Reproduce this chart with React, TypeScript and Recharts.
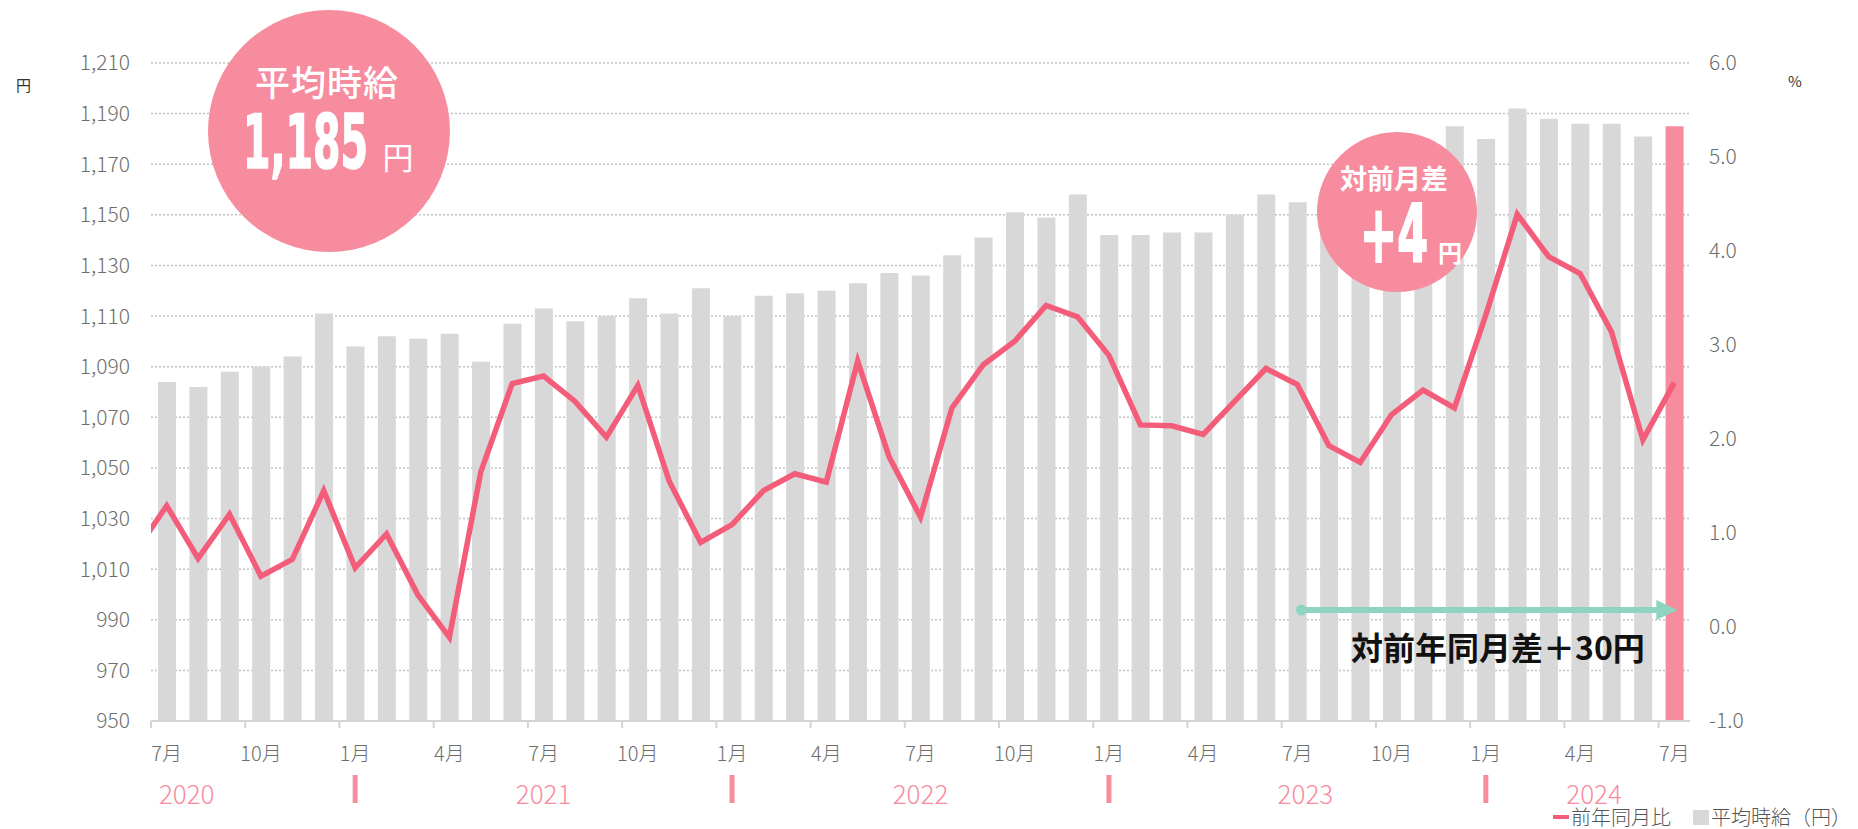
import React from "react";
import {
  ComposedChart,
  Bar,
  Line,
  XAxis,
  YAxis,
  CartesianGrid,
  Cell,
  ReferenceLine,
} from "recharts";

// months shown on the category axis (Jul 2020 – Jul 2024)
const months = [
  "2020-07", "2020-08", "2020-09", "2020-10", "2020-11", "2020-12",
  "2021-01", "2021-02", "2021-03", "2021-04", "2021-05", "2021-06",
  "2021-07", "2021-08", "2021-09", "2021-10", "2021-11", "2021-12",
  "2022-01", "2022-02", "2022-03", "2022-04", "2022-05", "2022-06",
  "2022-07", "2022-08", "2022-09", "2022-10", "2022-11", "2022-12",
  "2023-01", "2023-02", "2023-03", "2023-04", "2023-05", "2023-06",
  "2023-07", "2023-08", "2023-09", "2023-10", "2023-11", "2023-12",
  "2024-01", "2024-02", "2024-03", "2024-04", "2024-05", "2024-06",
  "2024-07",
];

// 平均時給（円）
const wage = [
  1084, 1082, 1088, 1090, 1094, 1111,
  1098, 1102, 1101, 1103, 1092, 1107,
  1113, 1108, 1110, 1117, 1111, 1121,
  1110, 1118, 1119, 1120, 1123, 1127,
  1126, 1134, 1141, 1151, 1149, 1158,
  1142, 1142, 1143, 1143, 1150, 1158,
  1155, 1156, 1161, 1177, 1178, 1185,
  1180, 1192, 1188, 1186, 1186, 1181,
  1185,
];

// 前年同月比（%）
const yoy = [
  1.29, 0.73, 1.2, 0.54, 0.72, 1.45,
  0.63, 0.99, 0.34, -0.11, 1.65, 2.59,
  2.67, 2.4, 2.02, 2.57, 1.55, 0.9,
  1.09, 1.45, 1.63, 1.54, 2.83, 1.81,
  1.17, 2.33, 2.79, 3.04, 3.42, 3.3,
  2.89, 2.15, 2.14, 2.05, 2.4, 2.75,
  2.58, 1.93, 1.75, 2.26, 2.52, 2.33,
  3.32, 4.39, 3.94, 3.76, 3.14, 1.99,
  2.6,
];
// Jun 2020, just left of the plot; the line runs in from the edge
const yoyJun2020 = 0.8;

const wageTicks = [950, 970, 990, 1010, 1030, 1050, 1070, 1090, 1110, 1130, 1150, 1170, 1190, 1210];
const rateTicks = [-1, 0, 1, 2, 3, 4, 5, 6];

const years = ["2020", "2021", "2022", "2023", "2024"];
const yearLabelMonth = ["2020-07", "2021-07", "2022-07", "2023-07", "2024-04"];
const yearBreaks = ["2021-01", "2022-01", "2023-01", "2024-01"];

const W = 1858;
const H = 829;
const PLOT_LEFT = 151;
const PLOT_RIGHT = 1690;
const BAND = (PLOT_RIGHT - PLOT_LEFT) / months.length;
const yearNudge = [20, 0, 0, 8, 14];

const FONT = "'Noto Sans CJK JP', 'Noto Sans', sans-serif";
const CONDENSED = "'DejaVu Sans Condensed', 'DejaVu Sans', sans-serif";
const PINK = "#f78c9f";
const LINE = "#f35d7a";
const GRAY = "#d8d8d8";
const MINT = "#8fd4c0";

const barData = months.map((m, i) => ({ month: m, wage: wage[i] }));
const lineData = [{ i: -1, rate: yoyJun2020 }, ...yoy.map((v, i) => ({ i, rate: v }))];

const MonthTick = (props: any) => {
  const { x, y, payload } = props;
  const idx = months.indexOf(payload.value);
  if (idx % 3 !== 0) return <g />;
  const m = Number(String(payload.value).slice(5));
  const yi = yearLabelMonth.indexOf(payload.value);
  return (
    <g>
      <line x1={x - BAND / 2} x2={x - BAND / 2} y1={y - 8} y2={y - 1} stroke="#d4d4d4" strokeWidth={2} />
      <text x={x} y={y + 23} textAnchor="middle" dominantBaseline="central" fill="#6e6e6e" fontSize={20} fontFamily={FONT} fontWeight={300}>
        {m}月
      </text>
      {yi >= 0 && (
        <text x={x + yearNudge[yi]} y={y + 63} textAnchor="middle" dominantBaseline="central" fill={PINK} fontSize={26} fontFamily={FONT} fontWeight={300}>
          {years[yi]}
        </text>
      )}
      {yearBreaks.includes(payload.value) && <rect x={x - 2.5} y={y + 46} width={5} height={28} fill={PINK} />}
    </g>
  );
};

const Arrow = (props: any) => {
  const { x1, y1, x2, y2 } = props;
  if (x1 == null) return null;
  return (
    <g>
      <circle cx={x1 + 4} cy={y1} r={5.5} fill={MINT} />
      <line x1={x1 + 4} y1={y1} x2={x2 - 14} y2={y2} stroke={MINT} strokeWidth={6} />
      <polygon points={`${x2 - 18},${y2 - 10} ${x2 + 3},${y2} ${x2 - 18},${y2 + 10}`} fill={MINT} />
    </g>
  );
};

export default function App() {
  const n = wage.length;
  const last = wage[n - 1];
  const momDiff = last - wage[n - 2];
  const yoyDiff = last - wage[n - 13];
  const axisText = { fill: "#6e6e6e", fontSize: 21, fontFamily: FONT, fontWeight: 300 };

  return (
    <div style={{ position: "absolute", left: 0, top: 0, width: W, height: H, background: "#fff", fontFamily: FONT }}>
      <ComposedChart width={W} height={H} data={barData} margin={{ top: 63, right: 68, bottom: 48, left: 0 }}>
        <CartesianGrid yAxisId="left" vertical={false} stroke="#c4c4c4" strokeWidth={1.5} strokeDasharray="2 2" />
        <XAxis
          xAxisId="cat"
          dataKey="month"
          interval={0}
          height={60}
          tickSize={6}
          tickLine={false}
          axisLine={{ stroke: "#d4d4d4", strokeWidth: 2 }}
          tick={(p: any) => <MonthTick {...p} />}
        />
        <XAxis xAxisId="num" type="number" dataKey="i" domain={[-0.5, 48.5]} allowDataOverflow hide />
        <YAxis
          yAxisId="left"
          domain={[950, 1210]}
          ticks={wageTicks}
          interval={0}
          width={151}
          tickSize={6}
          tickMargin={15}
          axisLine={false}
          tickLine={false}
          tick={axisText}
          tickFormatter={(v: number) => v.toLocaleString("en-US")}
        />
        <YAxis
          yAxisId="right"
          orientation="right"
          domain={[-1, 6]}
          ticks={rateTicks}
          interval={0}
          width={100}
          tickSize={6}
          tickMargin={13}
          axisLine={false}
          tickLine={false}
          tick={axisText}
          tickFormatter={(v: number) => v.toFixed(1)}
        />
        <Bar xAxisId="cat" yAxisId="left" dataKey="wage" barSize={18} isAnimationActive={false}>
          {barData.map((d, i) => (
            <Cell key={d.month} fill={i === n - 1 ? PINK : GRAY} />
          ))}
        </Bar>
        <Line
          data={lineData}
          xAxisId="num"
          yAxisId="right"
          dataKey="rate"
          type="linear"
          stroke={LINE}
          strokeWidth={5.5}
          dot={false}
          activeDot={false}
          isAnimationActive={false}
        />
        <ReferenceLine
          xAxisId="cat"
          yAxisId="right"
          segment={[
            { x: months[n - 13], y: 0.18 },
            { x: months[n - 1], y: 0.18 },
          ]}
          shape={(p: any) => <Arrow {...p} />}
        />
      </ComposedChart>

      {/* unit labels */}
      <div style={{ position: "absolute", left: 16, top: 74, fontSize: 15, color: "#333" }}>円</div>
      <div style={{ position: "absolute", left: 1788, top: 70, fontSize: 15, color: "#333" }}>%</div>

      {/* YoY difference note */}
      <div style={{ position: "absolute", left: 1351, top: 626, fontSize: 32, fontWeight: 700, color: "#111", whiteSpace: "nowrap", lineHeight: "40px" }}>
        対前年同月差＋{yoyDiff}円
      </div>

      {/* legend */}
      <div style={{ position: "absolute", left: 1553, top: 805, display: "flex", alignItems: "center", fontSize: 20, lineHeight: "24px", color: "#555", whiteSpace: "nowrap", fontWeight: 300 }}>
        <span style={{ display: "inline-block", width: 16, height: 4, background: LINE, marginRight: 2 }} />
        前年同月比
        <span style={{ display: "inline-block", width: 16, height: 15, background: GRAY, marginLeft: 22, marginRight: 2 }} />
        平均時給（円）
      </div>

      {/* bubbles */}
      <svg width={W} height={H} style={{ position: "absolute", left: 0, top: 0, pointerEvents: "none" }}>
        <circle cx={329} cy={131} r={121} fill={PINK} />
        <text x={327} y={80} textAnchor="middle" dominantBaseline="central" fill="#fff" fontSize={35} fontFamily={FONT} fontWeight={500} letterSpacing={1}>
          平均時給
        </text>
        <text x={243} y={168} fill="#fff" stroke="#fff" strokeWidth={1.5} fontSize={74} fontWeight={700} fontFamily={CONDENSED} textLength={125} lengthAdjust="spacingAndGlyphs">
          {last.toLocaleString("en-US")}
        </text>
        <text x={398} y={155} textAnchor="middle" dominantBaseline="central" fill="#fff" fontSize={31} fontFamily={FONT}>
          円
        </text>

        <circle cx={1397} cy={212} r={80} fill={PINK} />
        <text x={1394} y={177} textAnchor="middle" dominantBaseline="central" fill="#fff" fontSize={27} fontFamily={FONT} fontWeight={700}>
          対前月差
        </text>
        <text x={1360} y={262} fill="#fff" stroke="#fff" strokeWidth={2} fontSize={80} fontWeight={700} fontFamily={CONDENSED} textLength={68} lengthAdjust="spacingAndGlyphs">
          +{momDiff}
        </text>
        <text x={1450} y={251} textAnchor="middle" dominantBaseline="central" fill="#fff" fontSize={24} fontFamily={FONT} fontWeight={700}>
          円
        </text>
      </svg>
    </div>
  );
}
